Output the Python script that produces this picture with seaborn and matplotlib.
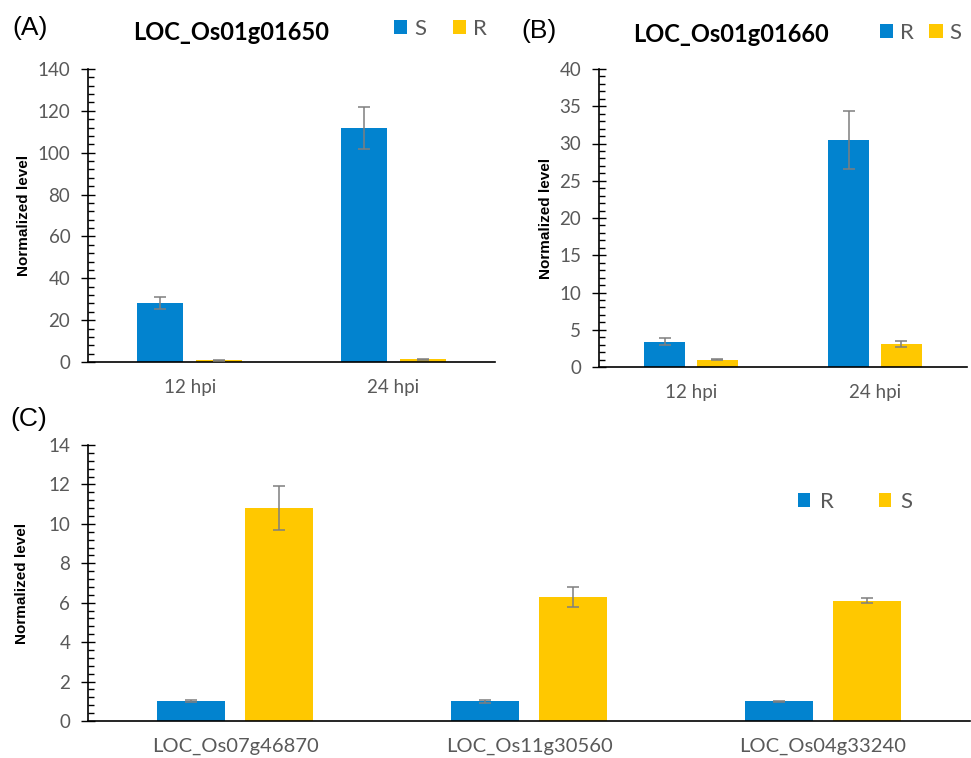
import matplotlib
matplotlib.use("Agg")
import matplotlib.pyplot as plt
import seaborn as sns
import pandas as pd
import numpy as np
from matplotlib.ticker import MultipleLocator
from matplotlib.patches import Patch

# ---------------- data ----------------
a_times = ["12 hpi", "24 hpi"]
a_lines = ["S", "R"]
a_S = [28.2, 112.0]
a_S_err = [3.0, 10.0]
a_R = [0.8, 1.2]
a_R_err = [0.35, 0.4]
a_title = "LOC_Os01g01650"

b_times = ["12 hpi", "24 hpi"]
b_lines = ["R", "S"]
b_R = [3.4, 30.5]
b_R_err = [0.45, 3.9]
b_S = [1.0, 3.1]
b_S_err = [0.1, 0.35]
b_title = "LOC_Os01g01660"

c_genes = ["LOC_Os07g46870", "LOC_Os11g30560", "LOC_Os04g33240"]
c_lines = ["R", "S"]
c_R = [1.0, 1.0, 1.0]
c_R_err = [0.05, 0.07, 0.03]
c_S = [10.8, 6.3, 6.1]
c_S_err = [1.1, 0.5, 0.12]

BLUE = "#0283CF"
YELLOW = "#FFC800"
GRAY = "#595959"
ERR = "#7F7F7F"

sns.set_theme(style="white")
plt.rcParams["font.family"] = ["Lato", "DejaVu Sans"]

W, H = 971, 758
fig = plt.figure(figsize=(W / 100, H / 100), dpi=100)


def ax_rect(l, t, r, b):
    return [l / W, 1 - b / H, (r - l) / W, (b - t) / H]


def draw(ax, cats, lines, vals, errs, palette, width, gap, ymax, major, minor,
         xfs=13.5, xpad=12):
    rows = []
    for ln, v in zip(lines, vals):
        for c, y in zip(cats, v):
            rows.append({"cat": c, "line": ln, "val": y})
    df = pd.DataFrame(rows)
    sns.barplot(data=df, x="cat", y="val", hue="line", hue_order=lines,
                order=cats, palette=palette, errorbar=None, width=width,
                gap=gap, saturation=1, ax=ax, legend=False, linewidth=0)
    for cont, e in zip(ax.containers, errs):
        xs = [p.get_x() + p.get_width() / 2 for p in cont]
        hs = [p.get_height() for p in cont]
        ax.errorbar(xs, hs, yerr=e, fmt="none", ecolor=ERR, elinewidth=1.1,
                    capsize=4, capthick=1.1, zorder=5)
    ax.set_xlabel("")
    ax.set_ylabel("")
    ax.set_ylim(0, ymax)
    ax.set_xlim(-0.5, len(cats) - 0.5)
    ax.yaxis.set_major_locator(MultipleLocator(major))
    ax.yaxis.set_minor_locator(MultipleLocator(minor))
    for s in ["top", "right"]:
        ax.spines[s].set_visible(False)
    for s in ["left", "bottom"]:
        ax.spines[s].set_color("black")
        ax.spines[s].set_linewidth(1.2)
    ax.tick_params(axis="y", which="major", direction="inout", length=9.5,
                   width=1, color="black", labelsize=13.5, labelcolor=GRAY,
                   pad=8, left=True)
    ax.tick_params(axis="y", which="minor", direction="in", length=4,
                   width=1, color="black", left=True)
    ax.tick_params(axis="x", which="both", length=0, labelsize=xfs,
                   labelcolor=GRAY, pad=xpad)
    ax.patch.set_alpha(0)


def legend(ax, labels, colors, x_left, y_center, fs, textpad, colsp, hl):
    handles = [Patch(facecolor=c, edgecolor="none") for c in colors]
    ax.legend(handles, labels, loc="center left",
              bbox_to_anchor=(x_left / W, 1 - y_center / H),
              bbox_transform=fig.transFigure, ncol=2, frameon=False,
              fontsize=fs, labelcolor=GRAY, handlelength=hl, handleheight=hl,
              handletextpad=textpad, columnspacing=colsp, borderpad=0,
              borderaxespad=0)


ARIAL = ["Liberation Sans", "DejaVu Sans"]

# Panel A
axA = fig.add_axes(ax_rect(88, 69, 495, 362))
draw(axA, a_times, a_lines, [a_S, a_R], [a_S_err, a_R_err],
     {"S": BLUE, "R": YELLOW}, 0.578, 0.22, 140, 20, 4)
legend(axA, a_lines, [BLUE, YELLOW], 394, 29, 16, 0.3, 1.2, 0.6)
fig.text(231 / W, 1 - 32 / H, a_title, fontsize=17, fontweight="bold",
         ha="center", va="center", color="black")
fig.text(30 / W, 1 - 28 / H, "(A)", fontsize=19, ha="center", va="center",
         family=ARIAL, color="black")
fig.text(24 / W, 1 - 215 / H, "Normalized level", rotation=90, fontsize=11,
         fontweight="bold", ha="center", va="center", family=ARIAL,
         color="black")

# Panel B
axB = fig.add_axes(ax_rect(599, 69, 967, 367))
draw(axB, b_times, b_lines, [b_R, b_S], [b_R_err, b_S_err],
     {"R": BLUE, "S": YELLOW}, 0.57, 0.21, 40, 5, 1)
legend(axB, b_lines, [BLUE, YELLOW], 880, 33, 16, 0.3, 0.7, 0.6)
fig.text(731 / W, 1 - 35 / H, b_title, fontsize=17, fontweight="bold",
         ha="center", va="center", color="black")
fig.text(539 / W, 1 - 31 / H, "(B)", fontsize=19, ha="center", va="center",
         family=ARIAL, color="black")
fig.text(546 / W, 1 - 218 / H, "Normalized level", rotation=90, fontsize=11,
         fontweight="bold", ha="center", va="center", family=ARIAL,
         color="black")

# Panel C
axC = fig.add_axes(ax_rect(88, 445, 970, 721))
draw(axC, c_genes, c_lines, [c_R, c_S], [c_R_err, c_S_err],
     {"R": BLUE, "S": YELLOW}, 0.596, 0.228, 14, 2, 0.4, xfs=14.5, xpad=12)
legend(axC, c_lines, [BLUE, YELLOW], 798, 502, 16, 0.45, 2.0, 0.55)
fig.text(29 / W, 1 - 419 / H, "(C)", fontsize=19, ha="center", va="center",
         family=ARIAL, color="black")
fig.text(22 / W, 1 - 583 / H, "Normalized level", rotation=90, fontsize=11,
         fontweight="bold", ha="center", va="center", family=ARIAL,
         color="black")

fig.savefig("out.png", dpi=100, facecolor="white")
